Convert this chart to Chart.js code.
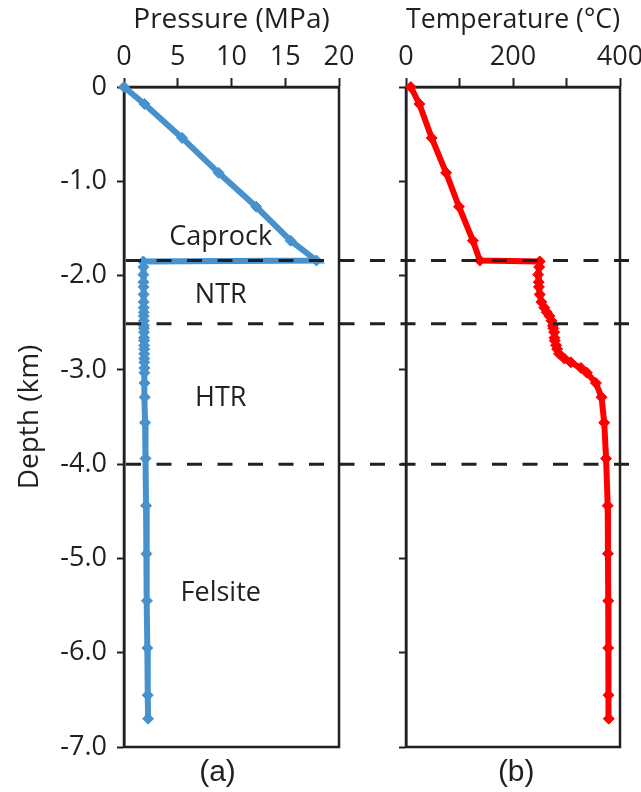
<!DOCTYPE html>
<html>
<head>
<meta charset="utf-8">
<script src="https://cdn.jsdelivr.net/npm/chart.js@4.4.1/dist/chart.umd.min.js"></script>
<style>
  html, body { margin: 0; padding: 0; background: #fff; }
  #wrap { position: relative; width: 641px; height: 792px; }
  #wrap canvas { position: absolute; left: 0; top: 0; }
</style>
</head>
<body>
<div id="wrap">
  <canvas id="pressureChart" width="641" height="792"></canvas>
  <canvas id="tempChart" width="641" height="792"></canvas>
</div>
<script>
// Well profile: depth below surface (km, negative downward)
const depthKm = [
  0, -0.18, -0.54, -0.91, -1.27, -1.63, -1.84,
  -1.85, -1.91, -1.99, -2.07, -2.12, -2.20, -2.28, -2.34, -2.39, -2.43, -2.48,
  -2.53, -2.56, -2.60, -2.66, -2.69, -2.74, -2.78, -2.83, -2.88, -2.92, -2.98,
  -3.03, -3.14, -3.29, -3.56, -3.94, -4.44, -4.95, -5.45, -5.95, -6.45, -6.70
];
const pressureMPa = [
  0, 1.9, 5.4, 8.8, 12.3, 15.5, 17.9,
  1.80, 1.80, 1.80, 1.81, 1.82, 1.82, 1.83, 1.83, 1.84, 1.84, 1.85,
  1.85, 1.85, 1.86, 1.86, 1.87, 1.87, 1.88, 1.88, 1.89, 1.89, 1.90,
  1.90, 1.91, 1.93, 1.96, 2.00, 2.05, 2.09, 2.13, 2.17, 2.21, 2.24
];
const temperatureC = [
  9, 25, 48, 75, 99, 125, 138,
  250, 249, 247, 248, 248.5, 250, 253, 258.5, 263, 268, 272,
  274.5, 275.5, 277, 277.5, 278, 280.5, 282.5, 286, 296, 308, 327,
  338, 355, 365.5, 370.5, 374, 377, 377.5, 378, 378, 378.5, 379
];

// Zone boundaries (km) and zone names
const zoneTops = [-1.84, -2.51, -4.0];
const zoneNames = ['Caprock', 'NTR', 'HTR', 'Felsite'];
const zoneLabelDepth = [-1.59, -2.21, -3.30, -5.37];
const zoneLabelPressure = 9.0;

const pressureTicks = [0, 5, 10, 15, 20];
const temperatureTicks = [0, 200, 400];

const INK = '#231f20';
const FONT = "'Open Sans', sans-serif";
Chart.defaults.font.family = FONT;
Chart.defaults.color = INK;

// box around the plot area
const panelBox = {
  id: 'panelBox',
  beforeDatasetsDraw(chart) {
    const a = chart.chartArea, ctx = chart.ctx;
    ctx.save();
    ctx.strokeStyle = INK;
    ctx.lineWidth = 2.5;
    ctx.strokeRect(a.left, a.top, a.right - a.left, a.bottom - a.top);
    ctx.restore();
  }
};

// dashed zone boundaries, continued through the gap between panels
const zoneLines = {
  id: 'zoneLines',
  afterDatasetsDraw(chart, args, opts) {
    const ctx = chart.ctx, y = chart.scales.y;
    ctx.save();
    ctx.strokeStyle = INK;
    ctx.lineWidth = 3;
    ctx.setLineDash([15, 15.5]);
    ctx.lineDashOffset = opts.from - 126;
    zoneTops.forEach(d => {
      const py = y.getPixelForValue(d);
      ctx.beginPath();
      ctx.moveTo(opts.from, py);
      ctx.lineTo(opts.to, py);
      ctx.stroke();
    });
    ctx.restore();
  }
};

// zone names and panel tag
const panelText = {
  id: 'panelText',
  afterDatasetsDraw(chart, args, opts) {
    const ctx = chart.ctx, x = chart.scales.x, y = chart.scales.y;
    ctx.save();
    ctx.fillStyle = INK;
    ctx.textAlign = 'center';
    ctx.textBaseline = 'middle';
    if (opts.zones) {
      ctx.font = '27px ' + FONT;
      zoneNames.forEach((name, i) => {
        ctx.fillText(name, x.getPixelForValue(zoneLabelPressure), y.getPixelForValue(zoneLabelDepth[i]));
      });
    }
    ctx.font = "30px 'Liberation Sans', Arial, sans-serif";
    ctx.fillText(opts.tag, x.getPixelForValue(opts.tagX), chart.chartArea.bottom + 26);
    ctx.restore();
  }
};

function profileChart(canvasId, values, color, xOpts, yWidth, padRight, plugOpts) {
  const points = depthKm.map((d, i) => ({ x: values[i], y: d }));
  return new Chart(document.getElementById(canvasId), {
    type: 'scatter',
    data: {
      datasets: [{
        data: points,
        showLine: true,
        borderColor: color,
        backgroundColor: color,
        borderWidth: 6,
        pointStyle: 'rectRot',
        pointRadius: 5.5,
        pointBorderWidth: 1,
        pointBorderColor: color,
        tension: 0,
        clip: false
      }]
    },
    options: {
      responsive: false,
      animation: false,
      devicePixelRatio: 1,
      layout: { padding: { left: 0, top: 0, right: padRight, bottom: 45 } },
      plugins: {
        legend: { display: false },
        tooltip: { enabled: false },
        zoneLines: plugOpts.lines,
        panelText: plugOpts.text
      },
      scales: {
        x: Object.assign({
          type: 'linear',
          position: 'top',
          border: { display: true, color: INK, width: 2.5 },
          grid: { display: true, drawOnChartArea: false, drawTicks: true, tickLength: 9, tickWidth: 2, tickColor: INK },
          afterFit(scale) { scale.height = 87; scale.paddingLeft = 0; scale.paddingRight = 0; }
        }, xOpts),
        y: {
          type: 'linear',
          position: 'left',
          min: -7,
          max: 0,
          border: { display: true, color: INK, width: 2.5 },
          grid: { display: true, drawOnChartArea: false, drawTicks: true, tickLength: 7, tickWidth: 2, tickColor: INK },
          ticks: {
            stepSize: 1,
            display: plugOpts.yLabels,
            padding: 10,
            font: { size: 27 },
            callback: v => (v === 0 ? '0' : v.toFixed(1))
          },
          title: {
            display: plugOpts.yLabels,
            text: 'Depth (km)',
            font: { size: 28 },
            padding: { top: 13, bottom: 0 }
          },
          afterFit(scale) { scale.width = yWidth; }
        }
      }
    },
    plugins: [panelBox, zoneLines, panelText]
  });
}

profileChart('pressureChart', pressureMPa, '#4792cc', {
  min: 0, max: 20,
  afterBuildTicks(scale) { scale.ticks = pressureTicks.map(v => ({ value: v })); },
  ticks: { padding: 4, font: { size: 27 } },
  title: { display: true, text: 'Pressure (MPa)', font: { size: 28 }, padding: { top: 3, bottom: 0 } }
}, 124, 302, {
  yLabels: true,
  lines: { from: 124, to: 372 },
  text: { zones: true, tag: '(a)', tagX: 8.7 }
});

profileChart('tempChart', temperatureC, '#ff0000', {
  min: 0, max: 400,
  ticks: {
    stepSize: 100,
    padding: 4,
    font: { size: 27 },
    callback: v => (temperatureTicks.includes(v) ? String(v) : '')
  },
  title: { display: true, text: 'Temperature (°C)', font: { size: 28 }, padding: { top: 3, bottom: 0 } }
}, 406, 21, {
  yLabels: false,
  lines: { from: 372, to: 638 },
  text: { zones: false, tag: '(b)', tagX: 206 }
});
</script>
</body>
</html>
